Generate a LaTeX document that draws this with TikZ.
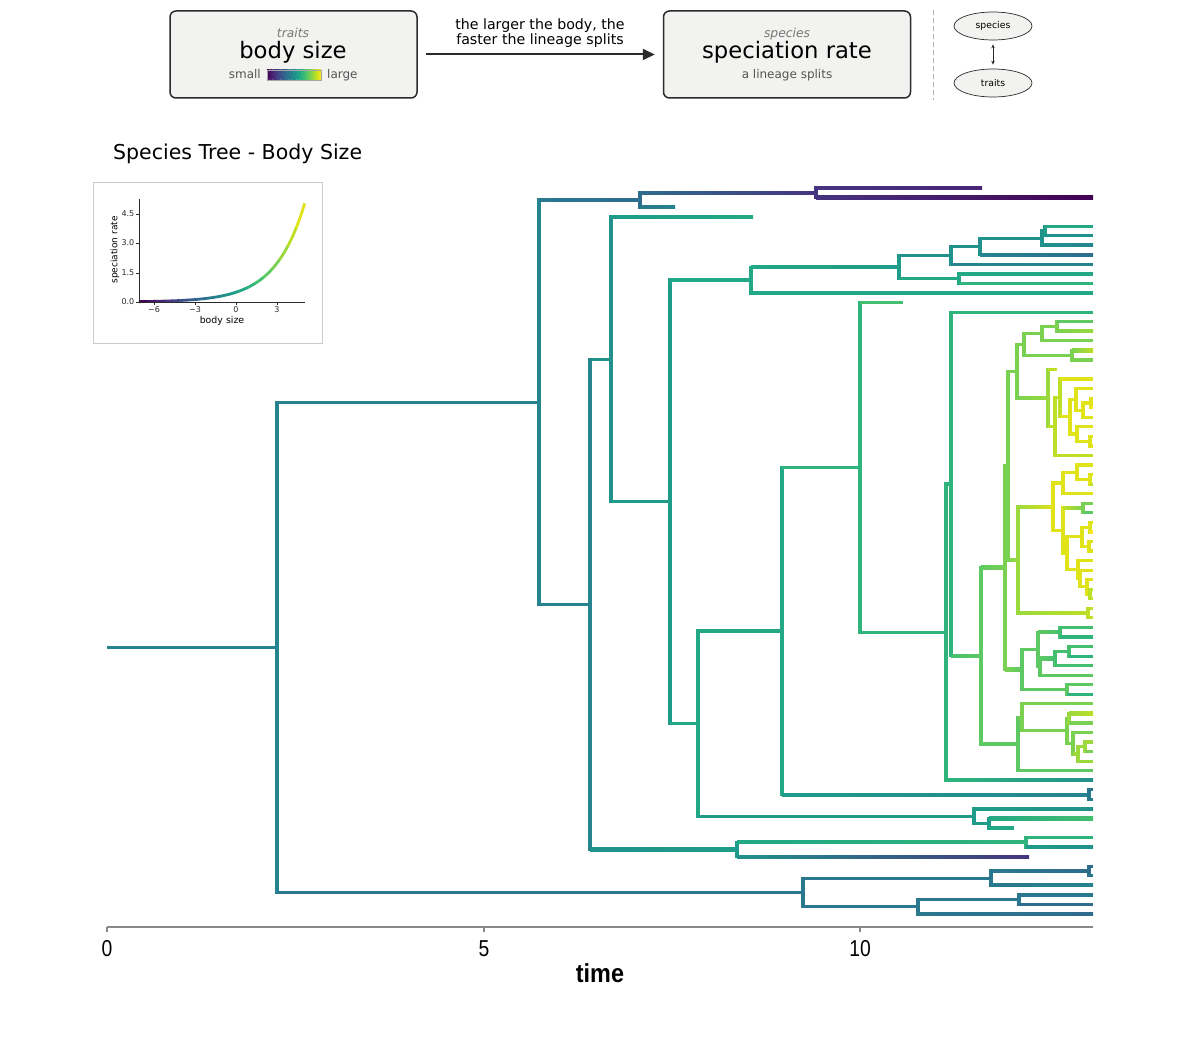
\documentclass[tikz,border=0pt]{standalone}
\usepackage{fontspec}
\setmainfont{DejaVu Sans}
\newfontfamily\axfont{Liberation Sans}
\usetikzlibrary{arrows.meta,shapes.geometric}
\definecolor{v0}{HTML}{440154}
\definecolor{v1}{HTML}{471365}
\definecolor{v2}{HTML}{482475}
\definecolor{v3}{HTML}{463480}
\definecolor{v4}{HTML}{414487}
\definecolor{v5}{HTML}{3B528B}
\definecolor{v6}{HTML}{355F8D}
\definecolor{v7}{HTML}{2F6C8E}
\definecolor{v8}{HTML}{2A788E}
\definecolor{v9}{HTML}{25848E}
\definecolor{v10}{HTML}{21918C}
\definecolor{v11}{HTML}{1E9C89}
\definecolor{v12}{HTML}{22A884}
\definecolor{v13}{HTML}{2FB47C}
\definecolor{v14}{HTML}{44BF70}
\definecolor{v15}{HTML}{5EC962}
\definecolor{v16}{HTML}{7AD151}
\definecolor{v17}{HTML}{9BD93C}
\definecolor{v18}{HTML}{BDDF26}
\definecolor{v19}{HTML}{DFE318}
\definecolor{v20}{HTML}{FDE725}
\definecolor{boxfill}{HTML}{F2F2F0}
\definecolor{boxedge}{HTML}{2B2B2B}
\definecolor{softtext}{HTML}{555555}
\definecolor{captext}{HTML}{777777}
\definecolor{axgray}{HTML}{888888}
\definecolor{insetedge}{HTML}{CCCCCC}
% horizontal branch: x parent, x child, tip index, left colour, right colour
\newcommand\hb[5]{\def\hbca{#4}\def\hbcb{#5}%
  \ifx\hbca\hbcb
    \fill[#4] ([yshift=1.6pt]#1,#3) rectangle ([yshift=-1.6pt]#2,#3);%
  \else
    \shade[left color=#4,right color=#5] ([yshift=1.6pt]#1,#3) rectangle ([yshift=-1.6pt]#2,#3);%
  \fi}
% vertical connector: x, top index, bottom index, colour
\newcommand\vb[4]{\fill[#4] ([xshift=-1.6pt,yshift=1.6pt]#1,#2) rectangle ([xshift=1.6pt,yshift=-1.6pt]#1,#3);}
\begin{document}
\begin{tikzpicture}[x=1pt,y=-1pt,
  topbox/.style={draw=boxedge,fill=boxfill,rounded corners=6pt,line width=1.5pt,minimum width=247pt,minimum height=87pt},
  smalltxt/.style={text=softtext,font=\fontsize{12}{12}\selectfont,inner sep=0pt},
  captxt/.style={text=captext,font=\fontsize{12.3}{12.3}\selectfont\itshape,inner sep=0pt},
  bigtxt/.style={font=\fontsize{22.7}{22.7}\selectfont,inner sep=0pt},
  ovalbox/.style={ellipse,draw=boxedge,fill=boxfill,line width=0.7pt,minimum width=78pt,minimum height=28pt,inner sep=0pt,font=\fontsize{9.3}{9.3}\selectfont},
  ticklab/.style={font=\fontsize{8}{8}\selectfont,inner sep=0pt,text=boxedge},
  axlab/.style={font=\axfont\fontsize{23}{23}\selectfont,inner sep=0pt,xscale=0.84,text=black}
]
\useasboundingbox (0,0) rectangle (1200,1046);
\fill[white] (0,0) rectangle (1200,1046);

% ---------- top panel ----------
\node[topbox] (bodybox) at (293.5,54.5) {};
\node[captxt,anchor=base] (tlab) at (293,38) {traits};
\node[bigtxt] (bsize) at (293,52.5) {body size};
\node[smalltxt,anchor=base east] (smalll) at (261,79) {small};
\node[smalltxt,anchor=base west] (largel) at (327,79) {large};
\foreach \k [evaluate=\k as \kk using int(\k+1)] in {0,...,19}
  {\shade[left color=v\k,right color=v\kk] ({267+2.7*\k},70) rectangle ({267+2.7*\kk},80);}
\draw[gray!70,line width=0.5pt] (267,70) rectangle (321,80);

\node[topbox] (ratebox) at (787,54.5) {};
\node[captxt,anchor=base] (slab) at (787,38) {species};
\node[bigtxt] (srate) at (787,52.5) {speciation rate};
\node[smalltxt,anchor=base] (lsplit) at (787,79) {a lineage splits};

\draw[boxedge,line width=2pt,shorten <=8pt,shorten >=8pt,-{Triangle[length=12pt,width=11pt]}] (bodybox.east) -- (ratebox.west);
\node[font=\fontsize{14.2}{14.2}\selectfont,inner sep=0pt,anchor=base] (ann1) at (540,30) {the larger the body, the};
\node[font=\fontsize{14.2}{14.2}\selectfont,inner sep=0pt,anchor=base] (ann2) at (540,45) {faster the lineage splits};

\draw[gray!60,line width=1pt,dash pattern=on 5pt off 3pt] (933,10) -- (933,100);
\node[ovalbox] (esp) at (993,26) {species};
\node[ovalbox] (etr) at (993,83) {traits};
\draw[boxedge,line width=0.7pt,shorten <=4pt,shorten >=4pt,{Stealth[length=4pt,width=3.5pt]}-{Stealth[length=4pt,width=3.5pt]}] (esp) -- (etr);

% ---------- title ----------
\node[font=\fontsize{20.5}{20.5}\selectfont,inner sep=0pt,anchor=base west] (title) at (113,160) {Species Tree - Body Size};

% ---------- inset ----------
\draw[insetedge,fill=white,line width=0.8pt] (93,182) rectangle (322,343);
\foreach \k in {0,...,19}{
  \pgfmathsetmacro\sa{-7.1+0.605*\k}
  \pgfmathsetmacro\sb{\sa+0.63}
  \draw[color=v\k,line width=2.8pt] plot[domain=\sa:\sb,samples=6] ({236+13.67*\x},{302-9.78*exp(0.46*\x)});
}
\draw[boxedge,line width=0.8pt] (139,199) -- (139,302) -- (305,302);
\foreach \yy/\lab in {214/4.5,243/3.0,273/1.5,302/0.0}{
  \draw[boxedge,line width=0.6pt] (136,\yy) -- (139,\yy);
  \node[ticklab,anchor=east] at (134.5,\yy) {\lab};
}
\foreach \xx/\lab in {154/−6,195/−3,236/0,277/3}{
  \draw[boxedge,line width=0.6pt] (\xx,302) -- (\xx,305);
  \node[ticklab,anchor=north] at (\xx,306.5) {\lab};
}
\node[font=\fontsize{9.4}{9.4}\selectfont,inner sep=0pt] (bsl) at (222,321) {body size};
\node[font=\fontsize{9}{9}\selectfont,inner sep=0pt,rotate=90] (srl) at (115,250) {speciation rate};

% ---------- time axis ----------
\draw[axgray,line width=1.3pt] (107,927) -- (1093,927);
\foreach \xx in {107,484,860}{\draw[axgray,line width=1.1pt] (\xx,927) -- (\xx,932);}
\node[axlab,anchor=base] (t0) at (107,956) {0};
\node[axlab,anchor=base] (t5) at (484,956) {5};
\node[axlab,anchor=base] (t10) at (860,956) {10};
\node[font=\axfont\bfseries\fontsize{26}{26}\selectfont,inner sep=0pt,xscale=0.9,anchor=base] (tlabel) at (600,982) {time};

% ---------- tree ----------
\begin{scope}[x=1pt,y=-9.553pt,yshift=-178.447pt]
\hb{107}{277}{49.0845}{v9}{v9}
\vb{277}{23.419}{74.75}{v9}
\hb{277}{539}{23.419}{v9}{v9}
\hb{277}{803}{74.75}{v8}{v8}
% C1
\vb{539}{2.25}{44.588}{v9}
\hb{539}{640}{2.25}{v8}{v7}
\hb{539}{590}{44.588}{v9}{v9}
% B
\vb{640}{1.5}{3}{v7}
\hb{640}{816}{1.5}{v7}{v3}
\hb{640}{675}{3}{v8}{v9}
% A
\vb{816}{1}{2}{v3}
\hb{816}{982}{1}{v3}{v2}
\hb{816}{1093}{2}{v3}{v0}
% D
\vb{590}{18.9255}{70.25}{v9}
\hb{590}{611}{18.9255}{v10}{v10}
\hb{590}{737}{70.25}{v10}{v11}
% E
\vb{611}{4}{33.851}{v10}
\hb{611}{753}{4}{v11}{v12}
\hb{611}{670}{33.851}{v11}{v11}
% G
\vb{670}{10.6406}{57.0615}{v11}
\hb{670}{751}{10.6406}{v12}{v12}
\hb{670}{698}{57.0615}{v12}{v12}
% H
\vb{751}{9.2813}{12}{v12}
\hb{751}{899}{9.2813}{v12}{v11}
\hb{751}{1093}{12}{v12}{v12}
% J
\vb{899}{8.0625}{10.5}{v11}
\hb{899}{951}{8.0625}{v10}{v10}
\hb{899}{959}{10.5}{v12}{v12}
% L
\vb{959}{10}{11}{v12}
\hb{959}{1093}{10}{v12}{v12}
\hb{959}{1093}{11}{v13}{v13}
% K
\vb{951}{7.125}{9}{v10}
\hb{951}{980}{7.125}{v10}{v10}
\hb{951}{1093}{9}{v9}{v9}
% M
\vb{980}{6.25}{8}{v10}
\hb{980}{1042}{6.25}{v10}{v10}
\hb{980}{1093}{8}{v9}{v7}
% N
\vb{1042}{5.5}{7}{v10}
\hb{1042}{1045}{5.5}{v10}{v10}
\hb{1042}{1093}{7}{v10}{v9}
% O
\vb{1045}{5}{6}{v11}
\hb{1045}{1093}{5}{v12}{v12}
\hb{1045}{1093}{6}{v10}{v10}
% I
\vb{698}{47.373}{66.75}{v12}
\hb{698}{782}{47.373}{v12}{v12}
\hb{698}{974}{66.75}{v11}{v11}
% Q
\vb{974}{66}{67.5}{v11}
\hb{974}{1093}{66}{v11}{v10}
\hb{974}{989}{67.5}{v11}{v11}
% R
\vb{989}{67}{68}{v11}
\hb{989}{1093}{67}{v12}{v14}
\hb{989}{1014}{68}{v12}{v12}
% P
\vb{782}{30.246}{64.5}{v12}
\hb{782}{860}{30.246}{v13}{v13}
\hb{782}{1089}{64.5}{v11}{v9}
\vb{1089}{64}{65}{v8}
\hb{1089}{1093}{64}{v8}{v8}
\hb{1089}{1093}{65}{v8}{v8}
% S
\vb{860}{13}{47.4919}{v13}
\hb{860}{903}{13}{v14}{v14}
\hb{860}{946}{47.4919}{v13}{v13}
% T
\vb{946}{31.9839}{63}{v13}
\hb{946}{951}{31.9839}{v13}{v13}
\hb{946}{1093}{63}{v13}{v10}
% U
\vb{951}{14}{49.9678}{v13}
\hb{951}{1093}{14}{v13}{v13}
\hb{951}{981}{49.9678}{v14}{v15}
% V
\vb{981}{40.7324}{59.2031}{v15}
\hb{981}{1005}{40.7324}{v15}{v16}
\hb{981}{1018}{59.2031}{v15}{v15}
% W
\vb{1005}{30.0586}{51.4063}{v16}
\hb{1005}{1008}{30.0586}{v16}{v16}
\hb{1005}{1022}{51.4063}{v16}{v15}
% Z
\vb{1008}{20.1836}{39.9336}{v16}
\hb{1008}{1017}{20.1836}{v16}{v16}
\hb{1008}{1018}{39.9336}{v16}{v17}
% a5
\vb{1017}{17.375}{22.992}{v16}
\hb{1017}{1024}{17.375}{v16}{v16}
\hb{1017}{1048}{22.992}{v16}{v17}
% a4
\vb{1024}{16.25}{18.5}{v16}
\hb{1024}{1042}{16.25}{v16}{v16}
\hb{1024}{1072}{18.5}{v16}{v16}
% a2
\vb{1042}{15.5}{17}{v16}
\hb{1042}{1057}{15.5}{v16}{v16}
\hb{1042}{1093}{17}{v16}{v16}
% a1
\vb{1057}{15}{16}{v16}
\hb{1057}{1093}{15}{v15}{v15}
\hb{1057}{1093}{16}{v16}{v17}
% a3
\vb{1072}{18}{19}{v16}
\hb{1072}{1093}{18}{v16}{v18}
\hb{1072}{1093}{19}{v16}{v16}
% b1
\vb{1048}{20}{25.9844}{v17}
\hb{1048}{1057}{20}{v18}{v18}
\hb{1048}{1055}{25.9844}{v18}{v18}
% b2
\vb{1055}{22.9688}{29}{v18}
\hb{1055}{1060}{22.9688}{v18}{v18}
\hb{1055}{1093}{29}{v18}{v18}
% b3
\vb{1060}{21}{24.9375}{v18}
\hb{1060}{1093}{21}{v19}{v19}
\hb{1060}{1070}{24.9375}{v19}{v19}
% b4
\vb{1070}{23.125}{26.75}{v19}
\hb{1070}{1076}{23.125}{v19}{v19}
\hb{1070}{1077}{26.75}{v19}{v19}
% c1
\vb{1076}{22}{24.25}{v19}
\hb{1076}{1093}{22}{v19}{v19}
\hb{1076}{1083}{24.25}{v19}{v19}
\vb{1083}{23.5}{25}{v19}
\hb{1083}{1091}{23.5}{v19}{v19}
\hb{1083}{1093}{25}{v19}{v19}
\vb{1091}{23}{24}{v19}
\hb{1091}{1093}{23}{v19}{v19}
\hb{1091}{1093}{24}{v20}{v20}
% c2
\vb{1077}{26}{27.5}{v19}
\hb{1077}{1093}{26}{v19}{v19}
\hb{1077}{1090}{27.5}{v19}{v19}
\vb{1090}{27}{28}{v19}
\hb{1090}{1093}{27}{v19}{v19}
\hb{1090}{1093}{28}{v19}{v19}
% d
\vb{1018}{34.3672}{45.5}{v17}
\hb{1018}{1053}{34.3672}{v17}{v19}
\hb{1018}{1088}{45.5}{v17}{v18}
\vb{1088}{45}{46}{v18}
\hb{1088}{1093}{45}{v18}{v18}
\hb{1088}{1093}{46}{v18}{v18}
% e
\vb{1053}{31.875}{36.8594}{v19}
\hb{1053}{1063}{31.875}{v19}{v19}
\hb{1053}{1063}{36.8594}{v19}{v19}
% g
\vb{1063}{30.75}{33}{v19}
\hb{1063}{1077}{30.75}{v19}{v19}
\hb{1063}{1093}{33}{v19}{v19}
\vb{1077}{30}{31.5}{v19}
\hb{1077}{1093}{30}{v19}{v19}
\hb{1077}{1090}{31.5}{v19}{v19}
\vb{1090}{31}{32}{v19}
\hb{1090}{1093}{31}{v19}{v19}
\hb{1090}{1093}{32}{v18}{v18}
% h
\vb{1063}{34.5}{39.2188}{v19}
\hb{1063}{1083}{34.5}{v18}{v16}
\hb{1063}{1067}{39.2188}{v19}{v19}
\vb{1083}{34}{35}{v16}
\hb{1083}{1093}{34}{v16}{v16}
\hb{1083}{1093}{35}{v15}{v15}
\vb{1067}{37.5}{40.9375}{v19}
\hb{1067}{1082}{37.5}{v19}{v19}
\hb{1067}{1078}{40.9375}{v19}{v19}
\vb{1082}{36.5}{38.5}{v19}
\hb{1082}{1090}{36.5}{v19}{v19}
\hb{1082}{1089}{38.5}{v19}{v19}
\vb{1090}{36}{37}{v19}
\hb{1090}{1093}{36}{v19}{v19}
\hb{1090}{1093}{37}{v20}{v20}
\vb{1089}{38}{39}{v19}
\hb{1089}{1093}{38}{v19}{v19}
\hb{1089}{1093}{39}{v19}{v19}
\vb{1078}{40}{41.875}{v19}
\hb{1078}{1093}{40}{v19}{v19}
\hb{1078}{1080}{41.875}{v19}{v19}
\vb{1080}{41}{42.75}{v19}
\hb{1080}{1093}{41}{v19}{v19}
\hb{1080}{1087}{42.75}{v19}{v19}
\vb{1087}{42}{43.5}{v19}
\hb{1087}{1093}{42}{v19}{v19}
\hb{1087}{1090}{43.5}{v19}{v19}
\vb{1090}{43}{44}{v18}
\hb{1090}{1093}{43}{v18}{v18}
\hb{1090}{1093}{44}{v18}{v18}
% Y
\vb{1022}{49.3125}{53.5}{v15}
\hb{1022}{1038}{49.3125}{v15}{v15}
\hb{1022}{1067}{53.5}{v15}{v15}
\vb{1038}{47.5}{51.125}{v15}
\hb{1038}{1060}{47.5}{v15}{v14}
\hb{1038}{1040}{51.125}{v15}{v15}
\vb{1060}{47}{48}{v14}
\hb{1060}{1093}{47}{v14}{v14}
\hb{1060}{1093}{48}{v13}{v13}
\vb{1040}{50.25}{52}{v15}
\hb{1040}{1055}{50.25}{v15}{v14}
\hb{1040}{1093}{52}{v15}{v15}
\vb{1055}{49.5}{51}{v14}
\hb{1055}{1069}{49.5}{v14}{v14}
\hb{1055}{1093}{51}{v14}{v14}
\vb{1069}{49}{50}{v14}
\hb{1069}{1093}{49}{v14}{v14}
\hb{1069}{1093}{50}{v13}{v13}
\vb{1067}{53}{54}{v15}
\hb{1067}{1093}{53}{v15}{v15}
\hb{1067}{1093}{54}{v13}{v13}
% X
\vb{1018}{56.4063}{62}{v15}
\hb{1018}{1022}{56.4063}{v16}{v16}
\hb{1018}{1093}{62}{v15}{v15}
\vb{1022}{55}{57.8125}{v16}
\hb{1022}{1093}{55}{v16}{v16}
\hb{1022}{1067}{57.8125}{v16}{v16}
\vb{1067}{56.5}{59.125}{v16}
\hb{1067}{1069}{56.5}{v16}{v16}
\hb{1067}{1073}{59.125}{v16}{v16}
\vb{1069}{56}{57}{v17}
\hb{1069}{1093}{56}{v17}{v18}
\hb{1069}{1093}{57}{v16}{v16}
\vb{1073}{58}{60.25}{v16}
\hb{1073}{1093}{58}{v16}{v16}
\hb{1073}{1078}{60.25}{v17}{v17}
\vb{1078}{59.5}{61}{v17}
\hb{1078}{1085}{59.5}{v17}{v17}
\hb{1078}{1093}{61}{v17}{v17}
\vb{1085}{59}{60}{v17}
\hb{1085}{1093}{59}{v17}{v17}
\hb{1085}{1093}{60}{v16}{v16}
% F
\vb{737}{69.5}{71}{v11}
\hb{737}{1026}{69.5}{v12}{v13}
\hb{737}{1029}{71}{v10}{v3}
\vb{1026}{69}{70}{v13}
\hb{1026}{1093}{69}{v13}{v13}
\hb{1026}{1093}{70}{v11}{v10}
% bottom clade
\vb{803}{73.25}{76.25}{v8}
\hb{803}{991}{73.25}{v8}{v8}
\hb{803}{918}{76.25}{v8}{v8}
\vb{991}{72.5}{74}{v8}
\hb{991}{1089}{72.5}{v8}{v7}
\hb{991}{1093}{74}{v8}{v9}
\vb{1089}{72}{73}{v7}
\hb{1089}{1093}{72}{v7}{v7}
\hb{1089}{1093}{73}{v8}{v8}
\vb{918}{75.5}{77}{v8}
\hb{918}{1019}{75.5}{v8}{v8}
\hb{918}{1093}{77}{v8}{v7}
\vb{1019}{75}{76}{v8}
\hb{1019}{1093}{75}{v8}{v8}
\hb{1019}{1093}{76}{v7}{v7}
\end{scope}
\end{tikzpicture}
\end{document}
